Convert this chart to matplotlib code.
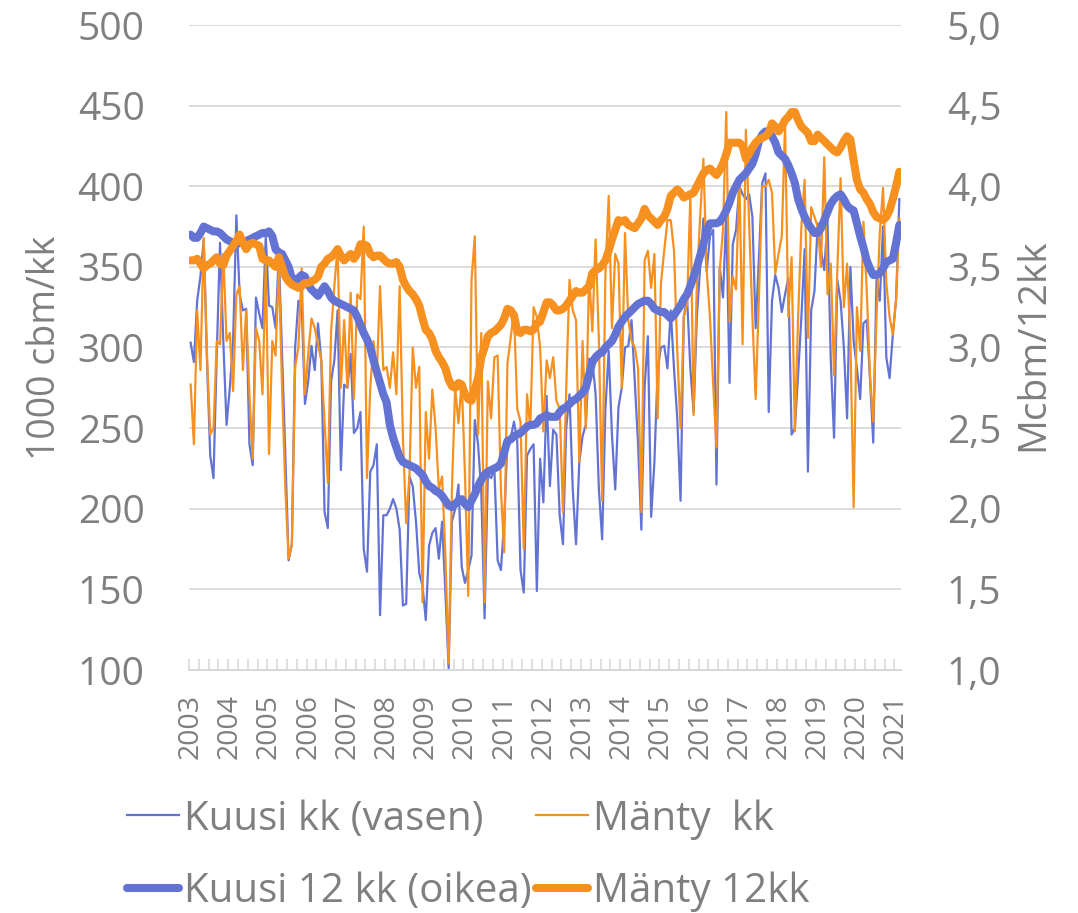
import matplotlib
matplotlib.use('Agg')
import matplotlib.pyplot as plt
import numpy as np
from matplotlib.ticker import FuncFormatter

plt.rcParams['font.family'] = ['Open Sans', 'DejaVu Sans']

# kuukausittaiset arvot, tammikuu 2003 - helmikuu 2021
years = [str(y) for y in range(2003, 2022)]

kuusi_kk = [
    303, 291, 329, 344, 367, 292, 233, 219, 296, 365, 304, 252,
    275, 304, 382, 333, 323, 324, 240, 227, 331, 321, 312, 369,
    326, 325, 312, 358, 296, 233, 168, 178, 300, 329, 327, 265,
    279, 301, 286, 315, 292, 198, 188, 279, 292, 323, 224, 277,
    275, 296, 247, 250, 260, 175, 161, 223, 227, 240, 134, 196,
    196, 200, 206, 200, 187, 140, 141, 220, 214, 192, 160, 152,
    131, 177, 185, 188, 169, 192, 148, 101, 192, 200, 215, 164,
    154, 162, 171, 255, 240, 210, 132, 221, 219, 225, 168, 162,
    192, 242, 244, 254, 242, 162, 148, 233, 237, 240, 149, 231,
    204, 270, 214, 249, 246, 196, 178, 250, 271, 212, 178, 229,
    245, 252, 293, 292, 271, 212, 181, 262, 298, 246, 212, 263,
    275, 300, 301, 317, 279, 240, 187, 275, 307, 195, 229, 287,
    300, 301, 287, 323, 287, 256, 205, 319, 331, 287, 260, 319,
    350, 380, 347, 369, 373, 215, 350, 331, 383, 278, 364, 373,
    400, 395, 392, 395, 381, 312, 356, 402, 408, 260, 329, 345,
    337, 322, 333, 343, 246, 250, 283, 319, 361, 223, 323, 335,
    377, 360, 348, 379, 292, 244, 342, 329, 300, 256, 350, 304,
    287, 268, 315, 317, 281, 241, 342, 329, 375, 294, 281, 308,
    330, 392,
]

manty_kk = [
    277, 240, 323, 286, 368, 296, 246, 250, 304, 302, 358, 304,
    309, 273, 333, 338, 286, 323, 271, 231, 312, 304, 271, 352,
    234, 304, 295, 350, 275, 212, 169, 178, 288, 300, 349, 271,
    296, 318, 312, 302, 292, 254, 216, 310, 338, 362, 275, 317,
    275, 334, 268, 333, 330, 375, 219, 275, 304, 283, 338, 286,
    288, 275, 297, 271, 338, 244, 191, 221, 300, 275, 288, 142,
    260, 231, 274, 250, 212, 220, 171, 104, 212, 275, 253, 279,
    221, 146, 342, 369, 246, 309, 142, 279, 256, 294, 295, 212,
    173, 290, 306, 323, 262, 254, 175, 271, 250, 325, 319, 300,
    248, 292, 281, 294, 267, 262, 198, 275, 342, 323, 317, 229,
    304, 250, 346, 310, 367, 304, 205, 346, 394, 312, 358, 352,
    275, 371, 317, 304, 300, 287, 198, 354, 360, 337, 358, 256,
    340, 360, 379, 379, 360, 298, 250, 319, 327, 394, 258, 340,
    381, 417, 348, 319, 277, 238, 348, 373, 446, 316, 344, 336,
    406, 302, 435, 377, 319, 268, 331, 400, 400, 404, 396, 346,
    358, 369, 438, 319, 356, 248, 319, 375, 404, 306, 387, 381,
    375, 350, 418, 333, 352, 283, 348, 405, 325, 352, 304, 201,
    325, 298, 378, 336, 283, 254, 319, 371, 399, 340, 319, 308,
    330, 380,
]

kuusi_12 = [
    3.70, 3.68, 3.68, 3.71, 3.75, 3.74, 3.73, 3.72, 3.72, 3.71, 3.69, 3.67,
    3.66, 3.65, 3.64, 3.65, 3.66, 3.66, 3.67, 3.68, 3.69, 3.70, 3.71, 3.71,
    3.72, 3.69, 3.61, 3.59, 3.58, 3.54, 3.50, 3.43, 3.41, 3.43, 3.45, 3.44,
    3.39, 3.36, 3.34, 3.32, 3.35, 3.38, 3.35, 3.31, 3.29, 3.28, 3.27, 3.26,
    3.25, 3.24, 3.23, 3.19, 3.14, 3.09, 3.05, 3.00, 2.92, 2.85, 2.78, 2.71,
    2.66, 2.52, 2.44, 2.38, 2.32, 2.29, 2.28, 2.27, 2.26, 2.25, 2.23, 2.21,
    2.17, 2.14, 2.13, 2.11, 2.10, 2.08, 2.05, 2.02, 2.01, 2.03, 2.05, 2.06,
    2.03, 2.01, 2.05, 2.09, 2.14, 2.18, 2.21, 2.23, 2.24, 2.25, 2.26, 2.28,
    2.35, 2.42, 2.43, 2.45, 2.46, 2.47, 2.49, 2.51, 2.52, 2.52, 2.53, 2.56,
    2.57, 2.58, 2.57, 2.57, 2.57, 2.60, 2.62, 2.63, 2.65, 2.67, 2.68, 2.70,
    2.72, 2.75, 2.83, 2.91, 2.94, 2.96, 2.97, 3.00, 3.02, 3.04, 3.08, 3.13,
    3.16, 3.19, 3.21, 3.23, 3.25, 3.27, 3.28, 3.29, 3.29, 3.27, 3.24, 3.23,
    3.22, 3.22, 3.20, 3.18, 3.20, 3.23, 3.26, 3.30, 3.33, 3.38, 3.44, 3.50,
    3.57, 3.64, 3.72, 3.77, 3.77, 3.77, 3.78, 3.81, 3.85, 3.90, 3.96, 4.00,
    4.04, 4.06, 4.08, 4.11, 4.14, 4.20, 4.28, 4.32, 4.34, 4.33, 4.31, 4.27,
    4.21, 4.19, 4.17, 4.13, 4.08, 4.02, 3.92, 3.86, 3.81, 3.77, 3.74, 3.71,
    3.71, 3.74, 3.79, 3.84, 3.89, 3.92, 3.94, 3.95, 3.92, 3.88, 3.86, 3.85,
    3.77, 3.69, 3.62, 3.54, 3.49, 3.45, 3.45, 3.46, 3.49, 3.53, 3.54, 3.55,
    3.65, 3.76,
]

manty_12 = [
    3.54, 3.54, 3.55, 3.52, 3.49, 3.51, 3.52, 3.54, 3.56, 3.52, 3.51, 3.57,
    3.60, 3.63, 3.66, 3.70, 3.65, 3.61, 3.64, 3.65, 3.64, 3.63, 3.55, 3.54,
    3.54, 3.52, 3.50, 3.56, 3.50, 3.44, 3.41, 3.39, 3.38, 3.37, 3.38, 3.40,
    3.40, 3.41, 3.42, 3.44, 3.50, 3.52, 3.55, 3.56, 3.58, 3.61, 3.57, 3.54,
    3.56, 3.58, 3.55, 3.58, 3.64, 3.64, 3.63, 3.58, 3.56, 3.57, 3.57, 3.55,
    3.53, 3.52, 3.52, 3.53, 3.50, 3.42, 3.38, 3.35, 3.33, 3.30, 3.26, 3.18,
    3.11, 3.09, 3.05, 2.98, 2.94, 2.91, 2.87, 2.80, 2.76, 2.75, 2.78, 2.77,
    2.71, 2.68, 2.67, 2.74, 2.81, 2.94, 3.00, 3.07, 3.09, 3.10, 3.12, 3.14,
    3.18, 3.24, 3.23, 3.20, 3.10, 3.09, 3.11, 3.11, 3.10, 3.11, 3.15, 3.16,
    3.22, 3.28, 3.28, 3.26, 3.23, 3.23, 3.24, 3.26, 3.29, 3.32, 3.35, 3.34,
    3.34, 3.36, 3.38, 3.46, 3.48, 3.49, 3.51, 3.54, 3.60, 3.67, 3.73, 3.79,
    3.78, 3.79, 3.76, 3.75, 3.74, 3.77, 3.80, 3.86, 3.82, 3.80, 3.78, 3.76,
    3.79, 3.81, 3.86, 3.94, 3.96, 3.98, 3.96, 3.93, 3.94, 3.95, 3.96, 4.00,
    4.04, 4.08, 4.10, 4.11, 4.09, 4.07, 4.10, 4.14, 4.20, 4.27, 4.27, 4.27,
    4.27, 4.25, 4.17, 4.20, 4.24, 4.27, 4.29, 4.30, 4.31, 4.33, 4.39, 4.37,
    4.34, 4.37, 4.41, 4.43, 4.46, 4.46, 4.41, 4.37, 4.35, 4.33, 4.28, 4.28,
    4.32, 4.30, 4.28, 4.26, 4.24, 4.22, 4.21, 4.24, 4.28, 4.31, 4.29, 4.16,
    4.04, 3.98, 3.96, 3.92, 3.89, 3.84, 3.81, 3.80, 3.79, 3.81, 3.85, 3.92,
    4.00, 4.09,
]

blue = '#6373d3'
orange = '#f6901f'
grey = '#7f7f7f'
gridc = '#d9d9d9'

n = len(kuusi_kk)
x = np.arange(n)

fig = plt.figure(figsize=(10.78, 9.13), dpi=100)
ax = fig.add_axes([189 / 1078, 1 - 670 / 913, 712 / 1078, 645 / 913])
ax2 = ax.twinx()

l1, = ax.plot(x, kuusi_kk, color=blue, lw=1.6, label='Kuusi kk (vasen)')
l2, = ax.plot(x, manty_kk, color=orange, lw=1.6, label='Mänty  kk')
l3, = ax2.plot(x, kuusi_12, color=blue, lw=5.8, label='Kuusi 12 kk (oikea)',
               solid_capstyle='round', solid_joinstyle='round')
l4, = ax2.plot(x, manty_12, color=orange, lw=5.8, label='Mänty 12kk',
               solid_capstyle='round', solid_joinstyle='round')

ax.set_ylim(100, 500)
ax2.set_ylim(1.0, 5.0)
ax.set_xlim(-0.5, n - 0.5)
ax.set_yticks(np.arange(100, 501, 50))
ax2.set_yticks(np.arange(1.0, 5.01, 0.5))
ax2.yaxis.set_major_formatter(FuncFormatter(lambda v, p: f'{v:.1f}'.replace('.', ',')))

ax.grid(axis='y', color=gridc, lw=1.3)
ax.set_axisbelow(True)

for a in (ax, ax2):
    for s in ('top', 'left', 'right'):
        a.spines[s].set_visible(False)
    a.spines['bottom'].set_color(gridc)
    a.spines['bottom'].set_linewidth(1.3)

ax.tick_params(axis='y', length=0, pad=32, labelsize=28, labelcolor=grey)
ax2.tick_params(axis='y', length=0, pad=33, labelsize=28, labelcolor=grey)

# vuodet tammikuun kohdalle, pienet viivat 3 kk välein
ax.set_xticks(x[::12])
ax.set_xticklabels(years, rotation=90)
ax.set_xticks(np.arange(-0.5, n, 3), minor=True)
ax.tick_params(axis='x', which='major', length=0, pad=17, labelsize=20.5, labelcolor=grey)
ax.tick_params(axis='x', which='minor', direction='in', length=8, width=1.2, color=gridc)

fig.text(45 / 1078, 1 - 348 / 913, '1000 cbm/kk', rotation=90, ha='center', va='center',
         fontsize=27, color=grey)
fig.text(1033 / 1078, 1 - 345 / 913, 'Mcbm/12kk', rotation=90, ha='center', va='center',
         fontsize=28, color=grey)

leg = fig.legend(handles=[l1, l3, l2, l4], ncol=2, loc='upper left',
                 bbox_to_anchor=(127 / 1078, 1 - 799 / 913), frameon=False,
                 fontsize=29, handlelength=1.3, handletextpad=0.12,
                 columnspacing=0.1, labelspacing=0.8, borderpad=0, borderaxespad=0)
for t in leg.get_texts():
    t.set_color(grey)

fig.savefig('out.png', dpi=100)
